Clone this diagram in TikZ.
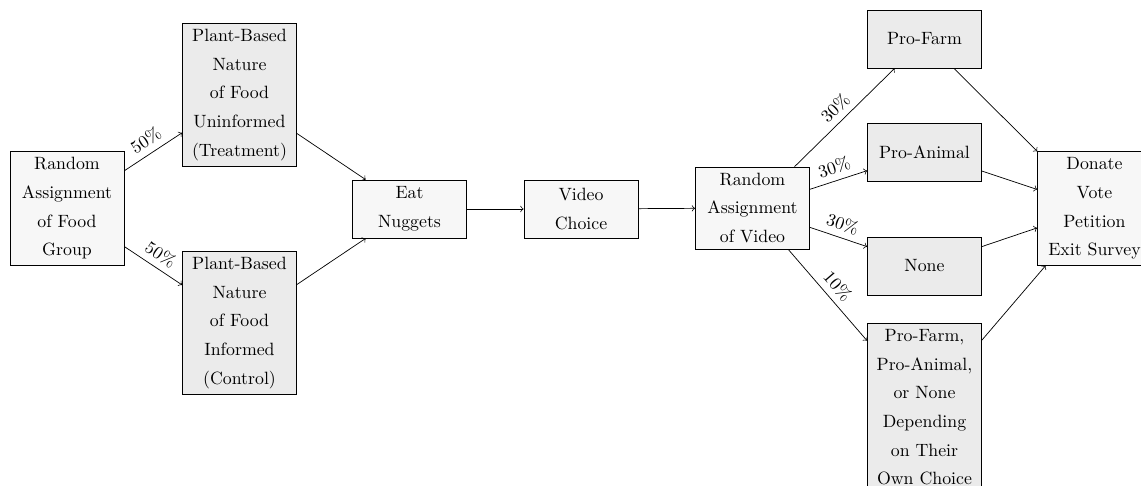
\documentclass[tikz,border=0pt]{standalone}
\begin{document}
\begin{tikzpicture}[x=0.5618pt, y=-0.5618pt,
  boxbase/.style={draw=black, line width=0.4pt, align=center, text width=57.5pt,
    minimum height=32.6pt, inner sep=3.33pt,
    font=\fontsize{10}{16.1}\selectfont},
  lightbox/.style={boxbase, fill=black!3},
  darkbox/.style={boxbase, fill=black!8},
  conn/.style={->, line width=0.4pt},
  pct/.style={midway, above, sloped, font=\fontsize{10}{12}\selectfont}]
\useasboundingbox (0,0) rectangle (1141,486);
\node[lightbox] (fg) at (67,208.5) {Random\\Assignment\\of Food\\Group};
\node[darkbox] (pbu) at (239.5,95) {Plant-Based\\Nature\\of Food\\Uninformed\\(Treatment)};
\node[darkbox] (pbi) at (239.5,323) {Plant-Based\\Nature\\of Food\\Informed\\(Control)};
\node[lightbox] (en) at (409.5,209) {Eat\\Nuggets};
\node[lightbox] (vc) at (581,209) {Video\\Choice};
\node[lightbox] (rav) at (752.5,208) {Random\\Assignment\\of Video};
\node[darkbox] (pf) at (924.5,39) {Pro-Farm};
\node[darkbox] (pa) at (924.5,152) {Pro-Animal};
\node[darkbox] (no) at (924.5,266) {None};
\node[darkbox, anchor=north] (co) at (924.5,323) {Pro-Farm,\\Pro-Animal,\\or None\\Depending\\on Their\\Own Choice};
\node[lightbox] (do) at (1094.5,208.5) {Donate\\Vote\\Petition\\Exit Survey};
\draw[conn] (fg) -- node[pct] {50\%} (pbu);
\draw[conn] (fg) -- node[pct] {50\%} (pbi);
\draw[conn] (pbu) -- (en);
\draw[conn] (pbi) -- (en);
\draw[conn] (en) -- (vc);
\draw[conn] (vc) -- (rav);
\draw[conn] (rav) -- node[pct] {30\%} (pf);
\draw[conn] (rav) -- node[pct] {30\%} (pa);
\draw[conn] (rav) -- node[pct] {30\%} (no);
\draw[conn] (rav) -- node[pct] {10\%} (co);
\draw[conn] (pf) -- (do);
\draw[conn] (pa) -- (do);
\draw[conn] (no) -- (do);
\draw[conn] (co) -- (do);
\end{tikzpicture}
\end{document}
